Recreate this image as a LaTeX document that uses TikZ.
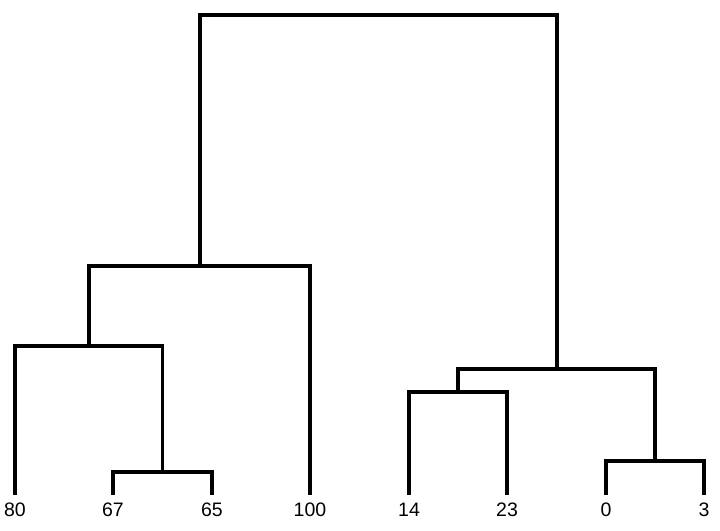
\documentclass[tikz,border=0pt]{standalone}
\usepackage{fontspec}
\setmainfont{Liberation Sans}
\usetikzlibrary{positioning}

\begin{document}
\begin{tikzpicture}[
    x=1pt, y=-1pt,
    % Styles
    link/.style={% For the branches of the tree
        line width=3.2pt,
        },
    leaf/.style={% For the labels under the leaves
        inner sep=0pt,
        font=\fontsize{19.5}{22}\selectfont,
        },
    ]
    \useasboundingbox (0,0) rectangle (720,530);

    % Leaves (bottom ends of the branches)
    \coordinate (l80)  at (15,495);
    \coordinate (l67)  at (113,495);
    \coordinate (l65)  at (212,495);
    \coordinate (l100) at (310,495);
    \coordinate (l14)  at (409,495);
    \coordinate (l23)  at (507,495);
    \coordinate (l0)   at (606,495);
    \coordinate (l3)   at (704,495);

    % Labels
    \node[leaf, below=8pt of l80]  (t80)  {80};
    \node[leaf, below=8pt of l67]  (t67)  {67};
    \node[leaf, below=8pt of l65]  (t65)  {65};
    \node[leaf, below=8pt of l100] (t100) {100};
    \node[leaf, below=8pt of l14]  (t14)  {14};
    \node[leaf, below=8pt of l23]  (t23)  {23};
    \node[leaf, below=8pt of l0]   (t0)   {0};
    \node[leaf, below=8pt of l3]   (t3)   {3};

    % Merge points
    \coordinate (m1) at (162.5,472);
    \coordinate (m2) at (89,346);
    \coordinate (m3) at (200,266);
    \coordinate (m4) at (458,392);
    \coordinate (m5) at (655,461);
    \coordinate (m6) at (557,369);
    \coordinate (m7) at (378,15);

    % Draw the branches
    % left part
    \draw[link] (l67) |- (m1) -| (l65);
    \draw[link] (l80) |- (m2) -| (m1);
    \draw[link] (m2) |- (m3) -| (l100);
    % right part
    \draw[link] (l14) |- (m4) -| (l23);
    \draw[link] (l0) |- (m5) -| (l3);
    \draw[link] (m4) |- (m6) -| (m5);
    % top
    \draw[link] (m3) |- (m7) -| (m6);

\end{tikzpicture}
\end{document}
